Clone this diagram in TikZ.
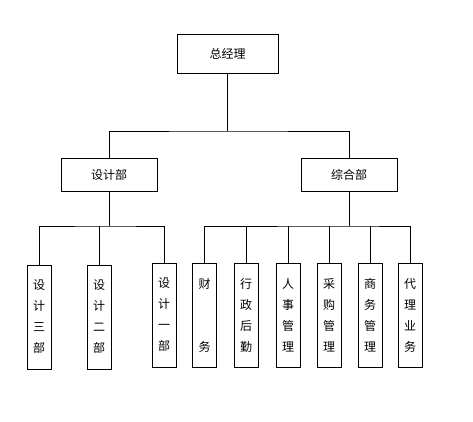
\documentclass[tikz,border=0pt]{standalone}
\usepackage{fontspec}
\usepackage{tikz}
\usetikzlibrary{positioning}
\newfontfamily\cjk{Noto Sans CJK SC}

\begin{document}
\begin{tikzpicture}[x=1pt,y=-1pt,line width=0.8pt,
    box/.style={draw,inner sep=0pt,font=\cjk\fontsize{12}{21}\selectfont},
    vbox/.style={box,minimum width=24pt,minimum height=104pt,align=center}]
    \useasboundingbox (0,0) rectangle (473,422);

    % top level
    \node[box,minimum width=101pt,minimum height=39pt] (gm) at (227.5,53.5) {总经理};

    % departments
    \node[box,minimum width=96pt,minimum height=33pt] (sj) at (109,174.5) {设计部};
    \node[box,minimum width=96pt,minimum height=33pt] (zh) at (349,174.5) {综合部};

    % design sections
    \node[vbox] (d3) at (39,317) {设\\计\\三\\部};
    \node[vbox] (d2) at (99,317) {设\\计\\二\\部};
    \node[vbox] (d1) at (164,315) {设\\计\\一\\部};

    % general sections
    \node[vbox] (cw) at (204.5,315) {财\\[42pt]务};
    \node[vbox] (xz) at (246,315) {行\\政\\后\\勤};
    \node[vbox] (rs) at (288,315) {人\\事\\管\\理};
    \node[vbox] (cg) at (329,315) {采\\购\\管\\理};
    \node[vbox] (sw) at (370,315) {商\\务\\管\\理};
    \node[vbox] (dl) at (410,315) {代\\理\\业\\务};

    \coordinate (j1) at (227.5,131);
    \coordinate (b1) at (109,226);
    \coordinate (b2) at (349,226);

    \draw (gm.south) -- (j1);
    \draw (sj.north) |- (j1) -| (zh.north);

    \draw (sj.south) -- (b1);
    \draw (d3.north) |- (b1) -| (d1.north);
    \draw (d2.north) -- (d2.north |- b1);

    \draw (zh.south) -- (b2);
    \draw (cw.north) |- (b2) -| (dl.north);
    \foreach \n in {xz,rs,cg,sw}
        \draw (\n.north) -- (\n.north |- b2);
\end{tikzpicture}
\end{document}
